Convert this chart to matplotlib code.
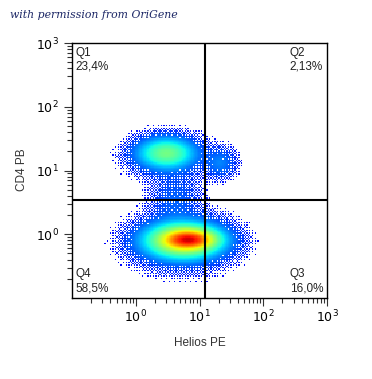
import numpy as np
import matplotlib
matplotlib.use("Agg")
import matplotlib.pyplot as plt
from matplotlib.colors import ListedColormap

# populations: peak density and log10 position/spread (Helios PE, CD4 PB)
pop_names = ["bulk core", "bulk body", "bulk halo", "CD4+ Helios-", "CD4+ halo", "CD4+ Helios+", "bridge"]
pop_amp = [0.55, 0.45, 0.02, 0.20, 0.015, 0.03, 0.018]
pop_cx = [0.85, 0.75, 0.72, 0.48, 0.50, 1.32, 0.62]
pop_cy = [-0.08, -0.10, -0.12, 1.27, 1.22, 1.12, 0.55]
pop_sx = [0.22, 0.32, 0.45, 0.24, 0.36, 0.14, 0.22]
pop_sy = [0.085, 0.15, 0.26, 0.13, 0.20, 0.13, 0.25]

quad_x = 12.3
quad_y = 3.4
quad_names = ["Q1", "Q2", "Q3", "Q4"]
quad_pct = ["23,4%", "2,13%", "16,0%", "58,5%"]
tick_vals = [1, 10, 100, 1000]
tick_labels = ["$10^{0}$", "$10^{1}$", "$10^{2}$", "$10^{3}$"]

fig = plt.figure(figsize=(3.72, 3.79), dpi=100)
ax = fig.add_axes([72 / 372, 1 - 298 / 379, 255 / 372, 255 / 379])

# density on a log grid
n = 190
edges = np.linspace(-1, 3, n + 1)
mid = 0.5 * (edges[:-1] + edges[1:])
gx, gy = np.meshgrid(mid, mid)
dens = np.zeros_like(gx)
for a, cx, cy, sx, sy in zip(pop_amp, pop_cx, pop_cy, pop_sx, pop_sy):
    dens += a * np.exp(-0.5 * (((gx - cx) / sx) ** 2 + ((gy - cy) / sy) ** 2))

# ordered dithering (8x8 Bayer) so the sparse fringe looks like single events
b2 = np.array([[0, 2], [3, 1]])
b4 = np.block([[4 * b2, 4 * b2 + 2], [4 * b2 + 3, 4 * b2 + 1]])
b8 = np.block([[4 * b4, 4 * b4 + 2], [4 * b4 + 3, 4 * b4 + 1]]) / 64.0
thr = np.tile(b8, (n // 8 + 1, n // 8 + 1))[:n, :n]
level = np.log10(dens + 1e-12)
show = level > (-3.1 + 1.6 * thr)
val = np.clip(dens, 0, 1) ** 0.5
val = np.ma.masked_where(~show, val)

cmap = ListedColormap(plt.cm.jet(np.linspace(0.11, 0.93, 256)))
ax.pcolormesh(10 ** edges, 10 ** edges, val, cmap=cmap, vmin=0, vmax=1,
              shading="flat", rasterized=True)

ax.set_xscale("log")
ax.set_yscale("log")
ax.set_xlim(0.1, 1000)
ax.set_ylim(0.1, 1000)
ax.axvline(quad_x, color="black", lw=1.5)
ax.axhline(quad_y, color="black", lw=1.5)

ax.set_xticks(tick_vals)
ax.set_xticklabels(tick_labels, fontsize=9)
ax.set_yticks(tick_vals)
ax.set_yticklabels(tick_labels, fontsize=9)
ax.tick_params(which="major", length=6, width=0.8, direction="out", color="#333333")
ax.tick_params(which="minor", length=3.5, width=0.8, direction="out", color="#333333")
ax.tick_params(axis="x", pad=2)
for sp in ax.spines.values():
    sp.set_linewidth(1.0)

kw = dict(transform=ax.transAxes, fontsize=8.5, color="#222222", family="Liberation Sans")
ax.text(0.015, 0.985, quad_names[0] + "\n" + quad_pct[0], ha="left", va="top", **kw)
ax.text(0.985, 0.985, quad_names[1] + "\n" + quad_pct[1], ha="right", va="top", multialignment="left", **kw)
ax.text(0.985, 0.015, quad_names[2] + "\n" + quad_pct[2], ha="right", va="bottom", multialignment="left", **kw)
ax.text(0.015, 0.015, quad_names[3] + "\n" + quad_pct[3], ha="left", va="bottom", **kw)

fig.text(200 / 372, 1 - 343 / 379, "Helios PE", ha="center", va="center",
         fontsize=8.5, color="#333333", family="Liberation Sans")
fig.text(22 / 372, 1 - 170 / 379, "CD4 PB", ha="center", va="center", rotation=90,
         fontsize=8.5, color="#333333", family="Liberation Sans")
fig.text(10 / 372, 1 - 15 / 379, "with permission from OriGene", ha="left", va="center",
         fontsize=7.8, style="italic", family="DejaVu Serif", color="#1c2766")

fig.savefig("out.png", dpi=100)
